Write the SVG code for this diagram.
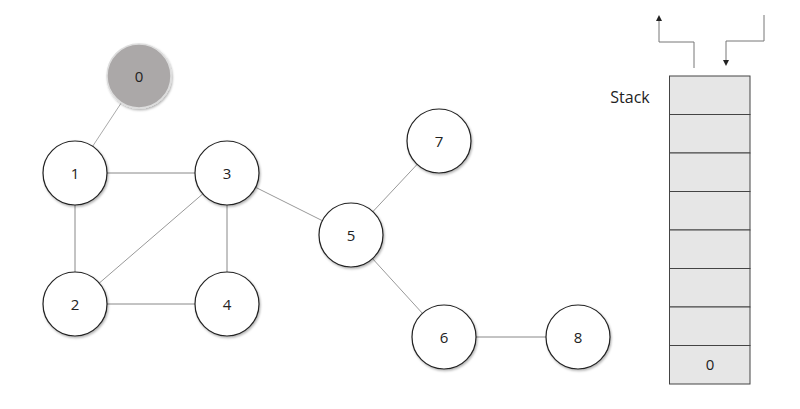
<svg xmlns="http://www.w3.org/2000/svg" width="800" height="409" viewBox="0 0 800 409">
<style>
.node circle{fill:#fff;stroke:#222;stroke-width:1.2;filter:url(#sh)}
.node text, .lbl{font-family:"Open Sans","Noto Sans",sans-serif;font-size:15px;fill:#222;text-anchor:middle;dominant-baseline:central}
.edge{stroke:#888;stroke-width:1;fill:none}
.cell{fill:#e6e6e6;stroke:#444;stroke-width:1}
.arr{stroke:#777;stroke-width:1;fill:none}
</style>
<defs>
<filter id="sh" x="-20%" y="-20%" width="150%" height="150%">
<feDropShadow dx="1" dy="1.5" stdDeviation="1" flood-color="#000" flood-opacity="0.3"/>
</filter>
<marker id="ah" viewBox="0 0 6 6" refX="3" refY="3" markerWidth="6" markerHeight="6" orient="auto">
<path d="M0,0 L6,3 L0,6 z" fill="#222"/>
</marker>
</defs>
<rect width="800" height="409" fill="#fff"/>
<g id="connectors">
<line class="edge" x1="139" y1="76" x2="75" y2="173" style="stroke:#aaa"/>
<line class="edge" x1="75" y1="173" x2="227" y2="173"/>
<line class="edge" x1="75" y1="173" x2="75" y2="304"/>
<line class="edge" x1="75" y1="304" x2="227" y2="173" style="stroke:#999"/>
<line class="edge" x1="227" y1="173" x2="227" y2="304"/>
<line class="edge" x1="75" y1="304" x2="227" y2="304"/>
<line class="edge" x1="227" y1="173" x2="351" y2="235" style="stroke:#999"/>
<line class="edge" x1="351" y1="235" x2="439" y2="141" style="stroke:#999"/>
<line class="edge" x1="351" y1="235" x2="444" y2="337" style="stroke:#999"/>
<line class="edge" x1="444" y1="337" x2="578" y2="337"/>
</g>
<g id="node0" class="node"><circle cx="139" cy="76" r="32" style="fill:#aba8a8;stroke:#ddd;stroke-width:1.5"/><text x="139" y="76">0</text></g>
<g id="node1" class="node"><circle cx="75" cy="173" r="32"/><text x="75" y="173">1</text></g>
<g id="node2" class="node"><circle cx="75" cy="304" r="32"/><text x="75" y="304">2</text></g>
<g id="node3" class="node"><circle cx="227" cy="173" r="32"/><text x="227" y="173">3</text></g>
<g id="node4" class="node"><circle cx="227" cy="304" r="32"/><text x="227" y="304">4</text></g>
<g id="node5" class="node"><circle cx="351" cy="235" r="32"/><text x="351" y="235">5</text></g>
<g id="node6" class="node"><circle cx="444" cy="337" r="32"/><text x="444" y="337">6</text></g>
<g id="node7" class="node"><circle cx="439" cy="141" r="32"/><text x="439" y="141">7</text></g>
<g id="node8" class="node"><circle cx="578" cy="337" r="32"/><text x="578" y="337">8</text></g>
<g id="stack">
<text class="lbl" x="630" y="97" style="font-size:16px">Stack</text>
<rect class="cell" x="669.5" y="76" width="80.5" height="38.5"/>
<rect class="cell" x="669.5" y="114.5" width="80.5" height="38.5"/>
<rect class="cell" x="669.5" y="153" width="80.5" height="38.5"/>
<rect class="cell" x="669.5" y="191.5" width="80.5" height="38.5"/>
<rect class="cell" x="669.5" y="230" width="80.5" height="38.5"/>
<rect class="cell" x="669.5" y="268.5" width="80.5" height="38.5"/>
<rect class="cell" x="669.5" y="307" width="80.5" height="38.5"/>
<rect class="cell" x="669.5" y="345.5" width="80.5" height="38.5"/>
<text class="lbl" x="710" y="364">0</text>
</g>
<g id="arrows">
<polyline class="arr" points="694,68 694,42 659,42 659,18" marker-end="url(#ah)"/>
<polyline class="arr" points="764,15 764,41 726,41 726,63" marker-end="url(#ah)"/>
</g>
</svg>
